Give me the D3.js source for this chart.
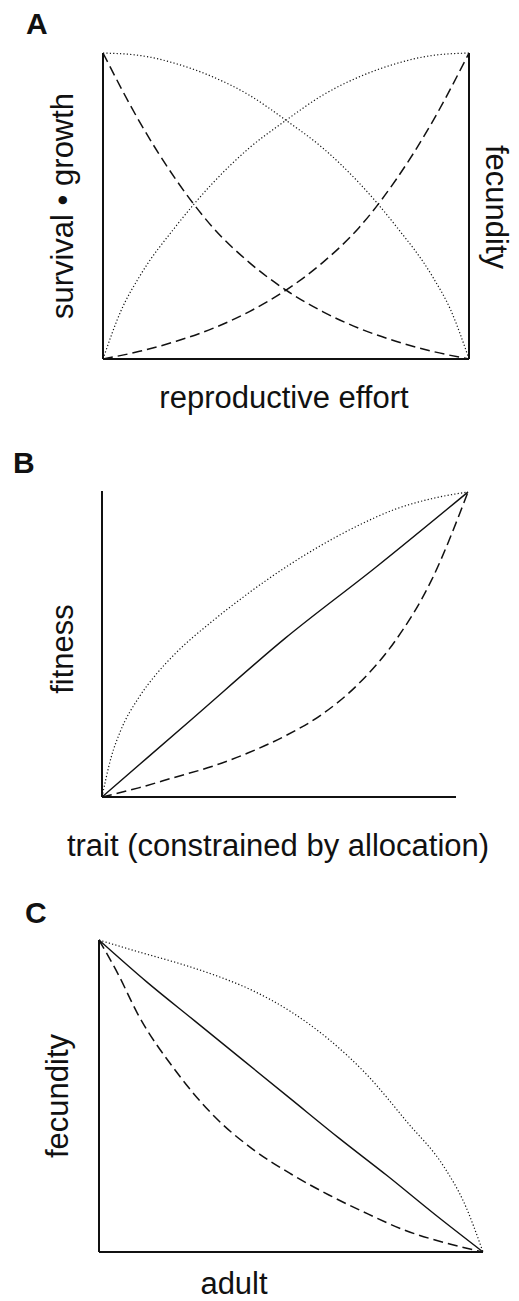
<!DOCTYPE html>
<html>
<head>
<meta charset="utf-8">
<script src="https://cdn.jsdelivr.net/npm/d3@7"></script>
<style>
  body { margin: 0; background: #fff; }
  svg text { font-family: "Liberation Sans", Arial, sans-serif; fill: #111; }
</style>
</head>
<body>
<div id="chart"></div>
<script>
// --- Data (normalised 0..1) ---
// Panel A: reproductive effort vs survival/growth and fecundity
const aDashX = [0, .1, .2, .3, .4, .5, .6, .7, .8, .9, 1];
const aSurvDash = [1, .775, .585, .43, .315, .225, .155, .10, .058, .025, 0];
const aFecDash  = [0, .025, .058, .10, .155, .225, .315, .43, .585, .775, 1];
const aSurvDotX = [0, .1, .2, .3, .4, .5, .6, .7, .8, .9, .95, 1];
const aSurvDot  = [1, .992, .965, .922, .862, .78, .69, .575, .435, .27, .16, 0];
const aFecDotX  = [0, .05, .1, .2, .3, .4, .5, .6, .7, .8, .9, 1];
const aFecDot   = [0, .16, .27, .435, .575, .69, .78, .862, .922, .965, .992, 1];

// Panel B: trait vs fitness
const bSolidX = [0, .25, .5, .75, 1];
const bSolid  = [0, .26, .52, .755, 1];
const bDotX = [0, .025, .05, .1, .15, .2, .3, .4, .5, .6, .7, .8, .9, 1];
const bDot  = [0, .13, .215, .325, .405, .47, .575, .668, .752, .826, .89, .943, .978, 1];
const bDashX = [0, .1, .2, .3, .4, .5, .6, .7, .8, .9, 1];
const bDash  = [0, .03, .065, .10, .145, .20, .27, .37, .51, .71, 1];

// Panel C: adult vs fecundity
const cSolidX = [0, .125, .25, .375, .5, .625, .75, .875, 1];
const cSolid  = [1, .865, .74, .615, .49, .365, .245, .12, 0];
const cDotX = [0, .1, .2, .3, .4, .5, .6, .7, .8, .9, .95, 1];
const cDot  = [1, .963, .928, .888, .838, .77, .68, .565, .42, .27, .16, 0];
const cDashX = [0, .05, .1, .2, .3, .4, .5, .6, .7, .8, .9, 1];
const cDash  = [1, .89, .765, .58, .435, .33, .25, .182, .122, .068, .03, 0];

// --- Setup ---
const width = 519, height = 1301;
const svg = d3.select("#chart").append("svg")
    .attr("width", width).attr("height", height);

const styles = {
  solid:  { w: 1.4, dash: null },
  dashed: { w: 1.5, dash: "10,5" },
  dotted: { w: 1.2, dash: "1.2,2.2" }
};

function drawCurve(g, xs, ys, xScale, yScale, kind) {
  const pts = xs.map((x, i) => [x, ys[i]]);
  const line = d3.line()
      .x(d => xScale(d[0]))
      .y(d => yScale(d[1]))
      .curve(d3.curveMonotoneX);
  g.append("path")
      .datum(pts)
      .attr("d", line)
      .attr("fill", "none")
      .attr("stroke", "#111")
      .attr("stroke-width", styles[kind].w)
      .attr("stroke-dasharray", styles[kind].dash);
}

function axisLine(g, x1, y1, x2, y2) {
  g.append("line")
      .attr("x1", x1).attr("y1", y1).attr("x2", x2).attr("y2", y2)
      .attr("stroke", "#111").attr("stroke-width", 2);
}

function panelLetter(txt, x, y) {
  svg.append("text").attr("x", x).attr("y", y)
      .attr("font-size", 30).attr("font-weight", "bold")
      .text(txt);
}

function label(txt, x, y, rot) {
  svg.append("text")
      .attr("transform", `translate(${x},${y}) rotate(${rot})`)
      .attr("text-anchor", "middle")
      .attr("font-size", 31)
      .text(txt);
}

// --- Panel A ---
const xA = d3.scaleLinear().domain([0, 1]).range([103, 469]);
const yA = d3.scaleLinear().domain([0, 1]).range([359, 53]);
const gA = svg.append("g");
axisLine(gA, xA(0), yA(1), xA(0), yA(0));
axisLine(gA, xA(0), yA(0), xA(1), yA(0));
axisLine(gA, xA(1), yA(1), xA(1), yA(0));
drawCurve(gA, aSurvDotX, aSurvDot, xA, yA, "dotted");
drawCurve(gA, aFecDotX, aFecDot, xA, yA, "dotted");
drawCurve(gA, aDashX, aSurvDash, xA, yA, "dashed");
drawCurve(gA, aDashX, aFecDash, xA, yA, "dashed");
panelLetter("A", 26, 34);
label("survival \u2022 growth", 73, 206, -90);
label("fecundity", 486, 207, 90);
label("reproductive effort", 284, 408, 0);

// --- Panel B ---
const xB = d3.scaleLinear().domain([0, 1]).range([102, 468]);
const yB = d3.scaleLinear().domain([0, 1]).range([797, 492]);
const gB = svg.append("g");
axisLine(gB, xB(0), 491, xB(0), yB(0));
axisLine(gB, xB(0), yB(0), 456, yB(0));
drawCurve(gB, bDotX, bDot, xB, yB, "dotted");
drawCurve(gB, bSolidX, bSolid, xB, yB, "solid");
drawCurve(gB, bDashX, bDash, xB, yB, "dashed");
panelLetter("B", 13, 473);
label("fitness", 73, 649, -90);
label("trait (constrained by allocation)", 278, 856, 0);

// --- Panel C ---
const xC = d3.scaleLinear().domain([0, 1]).range([99, 483]);
const yC = d3.scaleLinear().domain([0, 1]).range([1252, 940]);
const gC = svg.append("g");
axisLine(gC, xC(0), yC(1), xC(0), yC(0));
axisLine(gC, xC(0), yC(0), xC(1), yC(0));
drawCurve(gC, cDotX, cDot, xC, yC, "dotted");
drawCurve(gC, cSolidX, cSolid, xC, yC, "solid");
drawCurve(gC, cDashX, cDash, xC, yC, "dashed");
panelLetter("C", 25, 923);
label("fecundity", 68, 1096, -90);
label("adult", 234, 1294, 0);
</script>
</body>
</html>
